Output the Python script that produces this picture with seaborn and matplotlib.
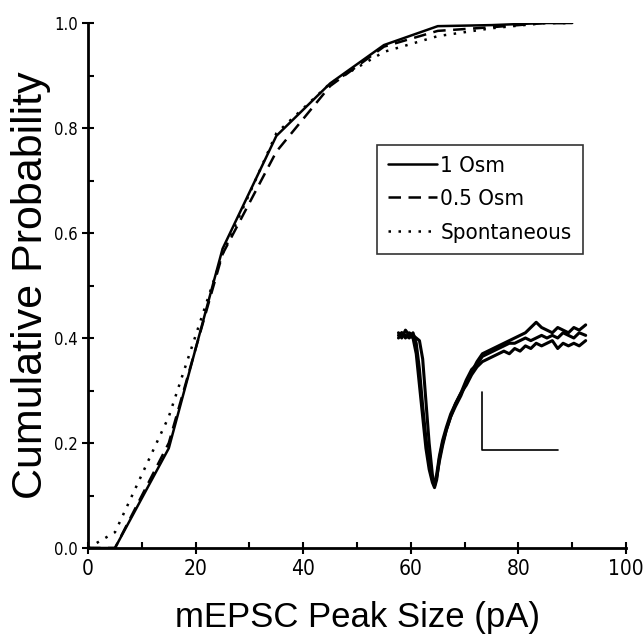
import numpy as np
import pandas as pd
import matplotlib
matplotlib.use("Agg")
import matplotlib.pyplot as plt
from matplotlib.ticker import MultipleLocator, FormatStrFormatter
import seaborn as sns

# cumulative distributions of mEPSC peak size
peak_x = [0, 5, 15, 25, 35, 45, 55, 65, 75, 85, 90]
osm_1 = [0, 0, 0.19, 0.57, 0.785, 0.885, 0.958, 0.994, 0.996, 1.0, 1.0]
osm_05 = [0, 0, 0.20, 0.56, 0.755, 0.88, 0.955, 0.985, 0.992, 1.0, 1.0]
spont = [0, 0.03, 0.25, 0.56, 0.79, 0.885, 0.945, 0.975, 0.99, 1.0, 1.0]
series_names = ["1 Osm", "0.5 Osm", "Spontaneous"]

# inset: averaged mEPSC traces (drawn in data units of the main axes)
trace_x = [57.7, 58.3, 59.0, 59.7, 60.4, 61.0, 61.6, 62.2, 62.8, 63.4, 64.0, 64.4,
           64.8, 65.3, 65.9, 66.6, 67.4, 68.3, 69.3, 70.3, 71.3, 72.3, 73.3, 74.3,
           75.3, 76.3, 77.3, 78.3, 79.3, 80.3, 81.3, 82.3, 83.3, 84.3, 85.3, 86.3,
           87.3, 88.3, 89.3, 90.3, 91.3, 92.5]
trace_a = [0.41, 0.40, 0.415, 0.405, 0.40, 0.37, 0.31, 0.25, 0.19, 0.15, 0.125, 0.115,
           0.13, 0.17, 0.20, 0.225, 0.25, 0.27, 0.29, 0.315, 0.335, 0.355, 0.37, 0.375,
           0.38, 0.385, 0.39, 0.395, 0.40, 0.405, 0.41, 0.42, 0.43, 0.42, 0.415, 0.41,
           0.42, 0.415, 0.41, 0.42, 0.415, 0.425]
trace_b = [0.40, 0.41, 0.40, 0.41, 0.405, 0.40, 0.395, 0.36, 0.28, 0.20, 0.14, 0.12,
           0.135, 0.165, 0.195, 0.225, 0.25, 0.275, 0.295, 0.31, 0.33, 0.345, 0.355, 0.36,
           0.365, 0.37, 0.375, 0.37, 0.38, 0.375, 0.385, 0.38, 0.39, 0.385, 0.39, 0.395,
           0.38, 0.39, 0.385, 0.39, 0.385, 0.395]
trace_c = [0.405, 0.41, 0.405, 0.40, 0.41, 0.39, 0.34, 0.27, 0.21, 0.16, 0.13, 0.118,
           0.14, 0.175, 0.205, 0.23, 0.255, 0.275, 0.295, 0.32, 0.34, 0.35, 0.365, 0.37,
           0.375, 0.38, 0.385, 0.39, 0.39, 0.395, 0.40, 0.395, 0.40, 0.405, 0.40, 0.405,
           0.40, 0.41, 0.405, 0.40, 0.41, 0.405]

df = pd.DataFrame({
    "x": peak_x * 3,
    "p": osm_1 + osm_05 + spont,
    "cond": [n for n in series_names for _ in peak_x],
})

sns.set_style("ticks")
plt.rcParams["font.family"] = ["Liberation Sans", "DejaVu Sans"]
plt.rcParams.update({"text.color": "black", "axes.labelcolor": "black",
                     "xtick.color": "black", "ytick.color": "black",
                     "axes.edgecolor": "black"})
narrow = dict(family=["DejaVu Sans"], stretch="condensed")

fig = plt.figure(figsize=(6.43, 6.39), dpi=100)
ax = fig.add_axes([0.137, 0.1424, 0.8366, 0.8216])

sns.lineplot(data=df, x="x", y="p", hue="cond", style="cond",
             palette=["black"] * 3,
             dashes={"1 Osm": "", "0.5 Osm": (5, 3), "Spontaneous": (1, 3)},
             linewidth=1.8, ax=ax, legend=True)

for tr in (trace_a, trace_b, trace_c):
    ax.plot(trace_x, tr, color="black", linewidth=2.2)

# scale bar
ax.plot([73.3, 73.3, 87.3], [0.297, 0.187, 0.187], color="black", linewidth=1.2)

ax.set_xlim(0, 100)
ax.set_ylim(0, 1.0)
ax.xaxis.set_major_locator(MultipleLocator(20))
ax.xaxis.set_minor_locator(MultipleLocator(10))
ax.yaxis.set_major_locator(MultipleLocator(0.2))
ax.yaxis.set_minor_locator(MultipleLocator(0.1))
ax.yaxis.set_major_formatter(FormatStrFormatter("%.1f"))
ax.tick_params(which="major", direction="inout", length=8, width=1.5)
ax.tick_params(which="minor", direction="in", length=4, width=1.5)
ax.tick_params(axis="x", which="major", pad=4)
for lab in ax.get_xticklabels():
    lab.set(fontsize=15, **narrow)
for lab in ax.get_yticklabels():
    lab.set(fontsize=12, **narrow)
for s in ("left", "bottom"):
    ax.spines[s].set_linewidth(2)
sns.despine(ax=ax)

ax.set_xlabel("mEPSC Peak Size (pA)", fontsize=25, labelpad=16)
ax.set_ylabel("Cumulative Probability", fontsize=31, labelpad=2)

leg = ax.legend(title=None, loc="upper left", bbox_to_anchor=(0.537, 0.768),
                borderaxespad=0, frameon=True, fancybox=False,
                prop=dict(size=16, **narrow), handlelength=2.2,
                handletextpad=0.15, borderpad=0.5, labelspacing=0.6)
leg.get_frame().set_edgecolor("black")
leg.get_frame().set_linewidth(1.2)
for h in leg.get_lines():
    h.set_linewidth(1.8)

fig.savefig("out.png", dpi=100)
